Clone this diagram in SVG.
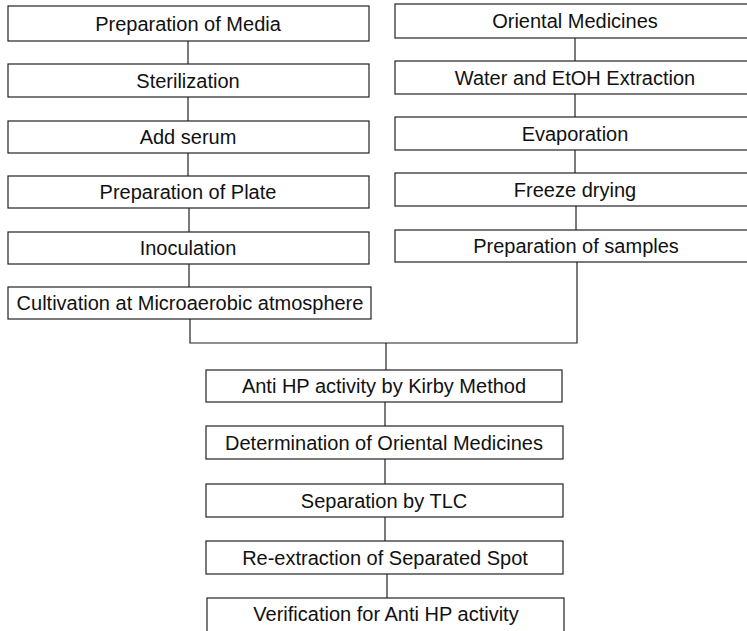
<svg xmlns="http://www.w3.org/2000/svg" width="747" height="631" viewBox="0 0 747 631">
<style>
.b{fill:#fff;stroke:#222;stroke-width:1.2}
.t{font-family:"Liberation Sans",Arial,sans-serif;font-size:20px;fill:#111;text-anchor:middle}
.c{fill:none;stroke:#222;stroke-width:1.2}
</style>
<rect width="747" height="631" fill="#fff"/>
<g id="connectors">
<line class="c" x1="188" y1="41" x2="188" y2="64"/>
<line class="c" x1="188" y1="97" x2="188" y2="121"/>
<line class="c" x1="188" y1="153" x2="188" y2="176"/>
<line class="c" x1="189" y1="208" x2="189" y2="232"/>
<line class="c" x1="189" y1="264" x2="189" y2="287"/>
<line class="c" x1="575" y1="38" x2="575" y2="61"/>
<line class="c" x1="575" y1="94" x2="575" y2="117"/>
<line class="c" x1="575" y1="150" x2="575" y2="173"/>
<line class="c" x1="576" y1="206" x2="576" y2="230"/>
<polyline class="c" points="190,319 190,343 577,343 577,262"/>
<line class="c" x1="386" y1="343" x2="386" y2="370"/>
<line class="c" x1="385" y1="402" x2="385" y2="426"/>
<line class="c" x1="385" y1="459" x2="385" y2="484"/>
<line class="c" x1="385" y1="517" x2="385" y2="541"/>
<line class="c" x1="387" y1="574" x2="387" y2="598"/>
</g>
<g id="n1"><rect class="b" x="8" y="6" width="361" height="35"/><text class="t" x="188" y="30.5">Preparation of Media</text></g>
<g id="n2"><rect class="b" x="8" y="64" width="361" height="33"/><text class="t" x="188" y="87.5">Sterilization</text></g>
<g id="n3"><rect class="b" x="8" y="121" width="361" height="32"/><text class="t" x="188" y="144">Add serum</text></g>
<g id="n4"><rect class="b" x="8" y="176" width="361" height="32"/><text class="t" x="188" y="199">Preparation of Plate</text></g>
<g id="n5"><rect class="b" x="8" y="232" width="361" height="32"/><text class="t" x="188" y="255">Inoculation</text></g>
<g id="n6"><rect class="b" x="8" y="287" width="363" height="32"/><text class="t" x="190" y="310">Cultivation at Microaerobic atmosphere</text></g>
<g id="r1"><rect class="b" x="395" y="4" width="370" height="34"/><text class="t" x="575" y="28">Oriental Medicines</text></g>
<g id="r2"><rect class="b" x="395" y="61" width="370" height="33"/><text class="t" x="575" y="84.5">Water and EtOH Extraction</text></g>
<g id="r3"><rect class="b" x="395" y="117" width="370" height="33"/><text class="t" x="575" y="140.5">Evaporation</text></g>
<g id="r4"><rect class="b" x="395" y="173" width="370" height="33"/><text class="t" x="575" y="196.5">Freeze drying</text></g>
<g id="r5"><rect class="b" x="395" y="230" width="370" height="32"/><text class="t" x="576" y="253">Preparation of samples</text></g>
<g id="m1"><rect class="b" x="206" y="370" width="356" height="32"/><text class="t" x="384" y="393">Anti HP activity by Kirby Method</text></g>
<g id="m2"><rect class="b" x="206" y="426" width="357" height="33"/><text class="t" x="384" y="449.5">Determination of Oriental Medicines</text></g>
<g id="m3"><rect class="b" x="206" y="484" width="357" height="33"/><text class="t" x="384" y="507.5">Separation by TLC</text></g>
<g id="m4"><rect class="b" x="206" y="541" width="357" height="33"/><text class="t" x="385" y="564.5">Re-extraction of Separated Spot</text></g>
<g id="m5"><rect class="b" x="207" y="598" width="357" height="45"/><text class="t" x="386" y="621">Verification for Anti HP activity</text></g>
</svg>
